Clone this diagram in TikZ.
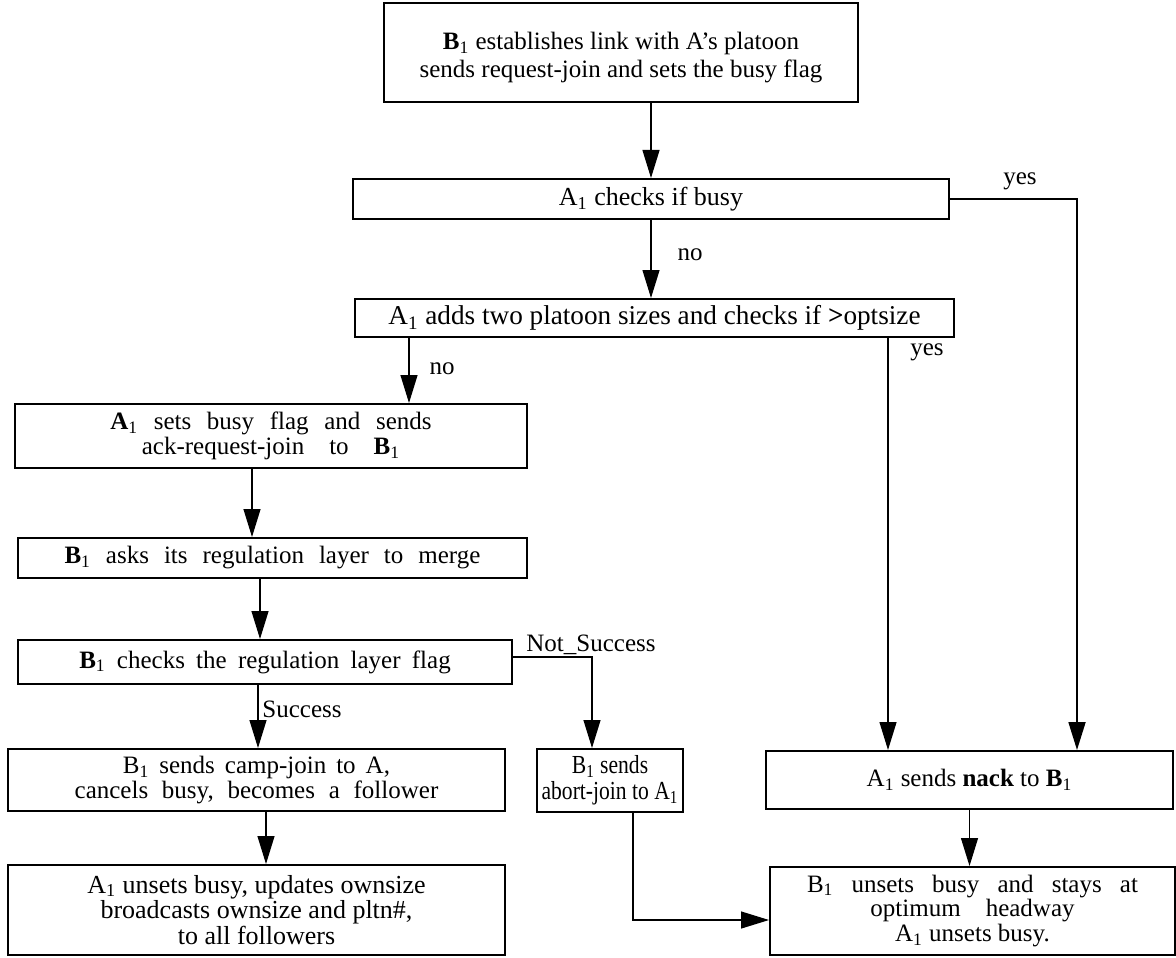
\documentclass[tikz,border=0pt]{standalone}
\usepackage{fontspec}
\setmainfont{Liberation Serif}
\newfontfamily\narrowserif[FakeStretch=0.83]{Liberation Serif}
\usetikzlibrary{arrows.meta}

\newcommand{\sub}[1]{\textsubscript{#1}}
% widen the interword space by a factor
\newcommand{\wide}[1]{\spaceskip=#1\fontdimen2\font\relax}

\begin{document}
\begin{tikzpicture}[x=0.5pt,y=-0.5pt,
  box/.style={draw, line width=1pt, inner sep=0pt, align=center,
              font=\fontsize{12.5}{10.5}\selectfont},
  sz/.style 2 args={minimum width=#1*0.5pt, minimum height=#2*0.5pt},
  arr/.style={line width=0.6pt, -{Triangle[length=14pt,width=8.5pt]}},
  lbl/.style={font=\fontsize{12.5}{13}\selectfont, inner sep=0pt}]
\useasboundingbox (0,0) rectangle (1176,957);

% process boxes
\node[box, sz={474}{99}, font=\fontsize{12.5}{14}\selectfont] (estab) at (621,52.5)
  {\rule{0pt}{14pt}\textbf{B}\sub{1} establishes link with A’s platoon\\ sends request-join and sets the busy flag};
\node[box, sz={596}{40}, font=\fontsize{13}{13}\selectfont] (busy) at (651,199)
  {A\sub{1} checks if busy};
\node[box, sz={599}{38}, font=\fontsize{13.6}{13}\selectfont] (add) at (654.5,318)
  {A\sub{1} adds two platoon sizes and checks if \textbf{>}optsize};
\node[box, sz={512}{64}] (setb) at (271,436)
  {{\wide{2.5}\textbf{A}\sub{1} sets busy flag and sends}\\
   {\wide{4}ack-request-join to \textbf{B}\sub{1}}};
\node[box, sz={509}{40}] (asks) at (272.5,558)
  {\wide{2.4}\textbf{B}\sub{1} asks its regulation layer to merge};
\node[box, sz={494}{44}] (flag) at (265,662)
  {\wide{1.8}\textbf{B}\sub{1} checks the regulation layer flag};
\node[box, sz={497}{62}] (camp) at (256.5,780)
  {{\wide{1.6}B\sub{1} sends camp-join to A,}\\
   {\wide{2.2}cancels busy, becomes a follower}};
\node[box, sz={497}{90}, font=\fontsize{13}{10}\selectfont] (bcast) at (256.5,910)
  {A\sub{1} unsets busy, updates ownsize\\ broadcasts ownsize and pltn\#,\\ to all followers};
\node[box, sz={146}{63}, font=\narrowserif\fontsize{13}{13}\selectfont] (abort) at (610,780.5)
  {B\sub{1} sends\\ abort-join to A\sub{1}};
\node[box, sz={407}{58}] (nack) at (969.5,780)
  {A\sub{1} sends \textbf{nack} to \textbf{B}\sub{1}};
\node[box, sz={405}{88}, font=\fontsize{12.5}{10}\selectfont] (final) at (972.5,911)
  {{\wide{2.9}B\sub{1} unsets busy and stays at}\\
   {\wide{4}optimum headway}\\ A\sub{1} unsets busy.};

% branch columns
\coordinate (noL) at (409,0);
\coordinate (yesM) at (888,0);
\coordinate (yesR) at (1077,0);
\coordinate (c1) at (252,0);
\coordinate (c2) at (260,0);
\coordinate (c3) at (258,0);
\coordinate (c4) at (266,0);
\coordinate (nsc) at (592,657);
\coordinate (ab) at (633,920);

% connectors
\draw[arr] (estab.south -| busy.north) -- (busy.north);
\draw[arr] (busy.south) -- (add.north -| busy.south);
\draw[arr, line width=0.9pt] (busy.east) -| (yesR |- nack.north);
\draw[arr] (add.south -| noL) -- (setb.north -| noL);
\draw[arr] (add.south -| yesM) -- (nack.north -| yesM);
\draw[arr] (setb.south -| c1) -- (asks.north -| c1);
\draw[arr] (asks.south -| c2) -- (flag.north -| c2);
\draw[arr] (flag.south -| c3) -- (camp.north -| c3);
\draw[arr] (flag.east |- nsc) -- (nsc) -- (abort.north -| nsc);
\draw[arr] (camp.south -| c4) -- (bcast.north -| c4);
\draw[arr] (abort.south -| ab) -- (ab) -- (final.west |- ab);
\draw[arr] (nack.south) -- (final.north -| nack.south);

% branch labels
\node[lbl] (lno1) at (690,255) {no};
\node[lbl] (lyes1) at (1020,181) {yes};
\node[lbl] (lno2) at (442,369) {no};
\node[lbl] (lyes2) at (927,352) {yes};
\node[lbl, anchor=west] (lsucc) at (262,709) {Success};
\node[lbl] (lnsucc) at (591,645) {Not\_Success};
\end{tikzpicture}
\end{document}
